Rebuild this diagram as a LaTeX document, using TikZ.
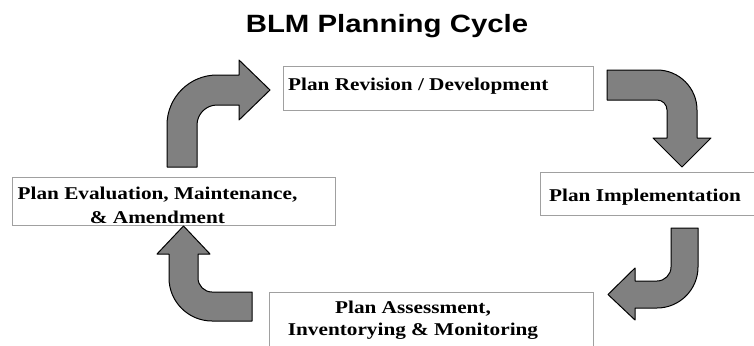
\documentclass[tikz,border=0pt]{standalone}
\usepackage{fontspec}
\setmainfont[FakeStretch=1.18]{Liberation Serif}
\newfontfamily\titlefont[FakeStretch=1.175]{Liberation Sans}
\usepackage{xcolor}
\usetikzlibrary{positioning,calc}

\definecolor{boxline}{HTML}{A0A0A0}
\definecolor{arrowfill}{HTML}{808080}

\tikzset{
  planbox/.style={draw=boxline, line width=0.9pt, fill=white, rectangle, inner sep=0pt, anchor=north west},
  planlabel/.style={inner sep=0pt, font=\bfseries\fontsize{18}{24}\selectfont},
  blockarrow/.style={draw=black, line width=1pt, fill=arrowfill, line join=round}
}

\begin{document}
\begin{tikzpicture}[x=1pt,y=-1pt]
                \useasboundingbox (0,0) rectangle (754,345);

                % Title
                \node[anchor=base, inner sep=0pt, font=\titlefont\bfseries\fontsize{25}{30}\selectfont] (title) at (387,33) {BLM Planning Cycle};

                % Stage boxes
                \node[planbox, minimum width=310pt, minimum height=44pt] (revision) at (283,66) {};
                \node[planbox, minimum width=220pt, minimum height=43pt] (implementation) at (540,172) {};
                \node[planbox, minimum width=324pt, minimum height=60pt] (assessment) at (269,292) {};
                \node[planbox, minimum width=323pt, minimum height=48pt] (evaluation) at (12,177) {};

                % Stage labels
                \node[planlabel, anchor=base west] (revisiontext) at (288,90) {Plan Revision / Development};
                \node[planlabel, anchor=base west] (implementationtext) at (549,201) {Plan Implementation};
                \node[planlabel, anchor=north, align=center, font=\bfseries\fontsize{18}{22}\selectfont] (assessmenttext) at (413,301) {Plan Assessment,\\Inventorying \& Monitoring};
                \node[planlabel, anchor=north, align=center] (evaluationtext) at (157.5,187) {Plan Evaluation, Maintenance,\\\& Amendment};

                % Evaluation -> Revision
                \draw[blockarrow] (167,167) -- (167,125) .. controls (167,97.4) and (189.4,75) .. (217,75)
                  -- (239,75) -- (239,60) -- (270,90) -- (239,120) -- (239,105) -- (217,105)
                  .. controls (206,105) and (197,114) .. (197,125) -- (197,167) -- cycle;

                % Revision -> Implementation
                \draw[blockarrow] (607,70) -- (657,70) .. controls (679.1,70) and (697,87.9) .. (697,110)
                  -- (697,138) -- (711,138) -- (682,167) -- (653,138) -- (667,138) -- (667,110)
                  .. controls (667,104.5) and (662.5,100) .. (657,100) -- (607,100) -- cycle;

                % Implementation -> Assessment
                \draw[blockarrow] (671,228) -- (698,228) -- (698,267) .. controls (698,289.6) and (679.6,308) .. (657,308)
                  -- (635,308) -- (635,320) -- (608,294.5) -- (635,268) -- (635,281) -- (657,281)
                  .. controls (664.7,281) and (671,274.7) .. (671,267) -- cycle;

                % Assessment -> Evaluation
                \draw[blockarrow] (252,321) -- (212,321) .. controls (188.3,321) and (169,301.7) .. (169,278)
                  -- (169,254) -- (157,254) -- (183.5,226) -- (210,254) -- (198,254) -- (198,278)
                  .. controls (198,285.7) and (204.3,292) .. (212,292) -- (252,292) -- cycle;
\end{tikzpicture}
\end{document}
